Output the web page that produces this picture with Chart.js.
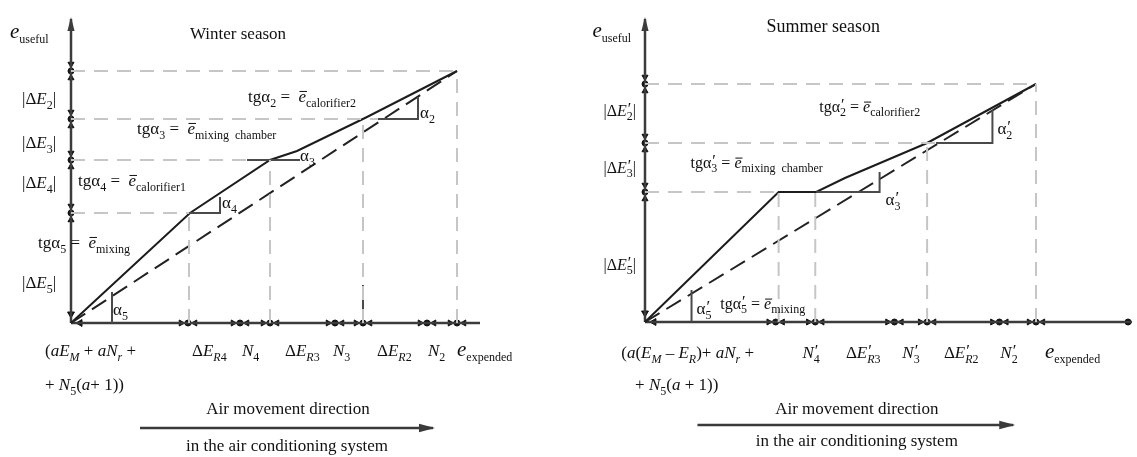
<!DOCTYPE html>
<html>
<head>
<meta charset="utf-8">
<script src="https://cdn.jsdelivr.net/npm/chart.js@4.4.1/dist/chart.umd.min.js"></script>
<style>
  html, body { margin: 0; padding: 0; background: #fff; }
  #wrap { position: relative; width: 1137px; height: 457px; overflow: hidden; }
  #winter { position: absolute; left: 0; top: 0; }
  #summer { position: absolute; left: 560px; top: 0; }
</style>
</head>
<body>
<div id="wrap">
  <canvas id="winter" width="560" height="457"></canvas>
  <canvas id="summer" width="577" height="457"></canvas>
</div>
<script>
// winter season: real (broken) useful energy line and the average straight line
var winterX = [0, 119, 199, 226, 296, 386];
var winterY = [0, 110, 163, 172, 206, 252];
var winterLevels = [110, 163, 204, 252];      // |dE5| .. |dE2| boundaries on e_useful
var winterSteps = [118, 199, 292, 386];       // N4, N3, N2, e_expended on the x axis
var winterStepTop = [110, 163, 204, 252];
var winterGuideEnd = [118, 176, 307, 386];
var winterTicks = [117, 169, 199, 264, 292, 356, 386];
var winterAngleX = [[118, 149, 149], [176, 229], [307, 347, 347], [41, 41]];
var winterAngleY = [[110, 110, 126], [163, 163], [204, 204, 226], [0, 31]];

// summer season
var summerX = [0, 135, 173, 202, 285, 395];
var summerY = [0, 130, 130, 144, 179, 238];
var summerLevels = [130, 179, 238];
var summerSteps = [135, 172, 285, 395];
var summerStepTop = [130, 130, 179, 238];
var summerGuideEnd = [135, 294, 395];
var summerTicks = [132, 172, 252, 285, 358, 395];
var summerAngleX = [[173, 237, 237], [294, 351, 351], [47, 47]];
var summerAngleY = [[130, 130, 150], [179, 179, 212], [0, 32]];

var FAM = '"Liberation Serif", "Times New Roman", serif';

function seg(xs, ys, style) {
  return Object.assign({
    data: xs.map(function (x, i) { return { x: x, y: ys[i] }; }),
    showLine: true, pointRadius: 0, clip: false, fill: false
  }, style);
}

var guide = { borderColor: '#c6c6c6', borderWidth: 2, borderDash: [14, 9] };
var axis = { borderColor: '#3c3c3c', borderWidth: 2.5 };
var mainLine = { borderColor: '#1c1c1c', borderWidth: 2 };
var avgLine = { borderColor: '#222', borderWidth: 2, borderDash: [17, 8] };
var angleLine = { borderColor: '#4a4a4a', borderWidth: 2 };

function markers(ticks, levels, extra) {
  var pts = [], st = [], rot = [], rad = [];
  function add(x, y, s, r, size) { pts.push({ x: x, y: y }); st.push(s); rot.push(r); rad.push(size); }
  ticks.forEach(function (t) {
    add(t, 0, 'circle', 0, 3);
    add(t - 7, 0, 'triangle', 90, 3.5);
    add(t + 7, 0, 'triangle', -90, 3.5);
  });
  levels.forEach(function (l) {
    add(0, l, 'circle', 0, 3);
    add(0, l + 7, 'triangle', 180, 3.5);
    add(0, l - 7, 'triangle', 0, 3.5);
  });
  add(0, 9, 'triangle', 180, 4);
  add(9, 0, 'triangle', -90, 4);
  extra.forEach(function (e) { add(e[0], e[1], e[2], e[3], e[4]); });
  return {
    data: pts, showLine: false, clip: false,
    pointStyle: st, pointRotation: rot, pointRadius: rad,
    pointBackgroundColor: '#111', pointBorderColor: '#111', pointBorderWidth: 1
  };
}

function buildSets(c) {
  var sets = [];
  c.levels.forEach(function (l, i) {
    sets.push(seg([0, c.guideEnd[i]], [l, l], guide));
  });
  c.steps.forEach(function (s, i) {
    sets.push(seg([s, s], [0, c.stepTop[i]], guide));
  });
  c.angleX.forEach(function (ax, i) { sets.push(seg(ax, c.angleY[i], angleLine)); });
  (c.solidStubs || []).forEach(function (s) { sets.push(seg(s[0], s[1], angleLine)); });
  sets.push(seg([0, c.xs[c.xs.length - 1]], [0, c.ys[c.ys.length - 1]], avgLine));
  sets.push(seg(c.xs, c.ys, mainLine));
  sets.push(seg([0, 0], [0, c.yTop], Object.assign({ arrowHead: 6 }, axis)));
  sets.push(seg([0, c.xEnd], [0, 0], axis));
  sets.push(seg(c.arrow[0], c.arrow[1], { borderColor: '#3a3a3a', borderWidth: 2.5, arrowHead: 7 }));
  sets.push(markers(c.ticks, c.levels, c.extra));
  return sets;
}

// rich text: runs of [text, mode]
function drawRuns(ctx, runs, x, y, size, align) {
  var sub = Math.round(size * 0.72);
  function font(m) {
    if (m === 'i' || m === 'o') return 'italic ' + size + 'px ' + FAM;
    if (m === 'E') return 'italic ' + Math.round(size * 1.25) + 'px ' + FAM;
    if (m === 's') return sub + 'px ' + FAM;
    if (m === 'si') return 'italic ' + sub + 'px ' + FAM;
    return size + 'px ' + FAM;
  }
  var total = 0;
  runs.forEach(function (r) {
    ctx.font = font(r[1]);
    if (r[1] !== 'p') total += ctx.measureText(r[0]).width;
  });
  if (align === 'center') x -= total / 2;
  ctx.fillStyle = '#111';
  ctx.strokeStyle = '#111';
  ctx.textBaseline = 'alphabetic';
  ctx.textAlign = 'left';
  runs.forEach(function (r) {
    var m = r[1];
    ctx.font = font(m);
    var w = ctx.measureText(r[0]).width;
    var dy = (m === 's' || m === 'si') ? size * 0.28 : 0;
    if (m === 'p') {
      ctx.fillText('\u2032', x + 1, y - size * 0.12);
      return;
    }
    ctx.fillText(r[0], x, y + dy);
    if (m === 'o') {
      ctx.lineWidth = 1;
      ctx.beginPath();
      ctx.moveTo(x + 1, y - size * 0.62);
      ctx.lineTo(x + w + 1, y - size * 0.62);
      ctx.stroke();
    }
    x += w;
  });
}

var textPlugin = {
  id: 'texts',
  afterDatasetsDraw: function (chart) {
    var ctx = chart.ctx, xs = chart.scales.x, ys = chart.scales.y;
    ctx.save();
    // arrow heads at the end of flagged lines (drawn outside the chart area too)
    chart.data.datasets.forEach(function (ds) {
      if (!ds.arrowHead) return;
      var n = ds.data.length;
      var a = ds.data[n - 2], b = ds.data[n - 1];
      var x1 = xs.getPixelForValue(a.x), y1 = ys.getPixelForValue(a.y);
      var x2 = xs.getPixelForValue(b.x), y2 = ys.getPixelForValue(b.y);
      var ang = Math.atan2(y2 - y1, x2 - x1), L = ds.arrowHead * 2, W = ds.arrowHead * 0.6;
      ctx.fillStyle = ds.borderColor;
      ctx.beginPath();
      ctx.moveTo(x2 + Math.cos(ang) * 2, y2 + Math.sin(ang) * 2);
      ctx.lineTo(x2 - Math.cos(ang) * L - Math.sin(ang) * W, y2 - Math.sin(ang) * L + Math.cos(ang) * W);
      ctx.lineTo(x2 - Math.cos(ang) * L + Math.sin(ang) * W, y2 - Math.sin(ang) * L - Math.cos(ang) * W);
      ctx.closePath();
      ctx.fill();
    });
    chart.options.plugins.texts.items.forEach(function (t) {
      drawRuns(ctx, t[2], xs.getPixelForValue(t[0]), ys.getPixelForValue(t[1]), t[3] || 17, t[4]);
    });
    ctx.restore();
  }
};

function dE(n, prime) {
  return prime
    ? [['|Δ', 'n'], ['E', 'i'], ['', 'p'], [n, 's'], ['|', 'n']]
    : [['|Δ', 'n'], ['E', 'i'], [n, 's'], ['|', 'n']];
}
function tg(n, name, prime) {
  var r = [['tgα', 'n']];
  if (prime) r.push(['', 'p']);
  r.push([n, 's'], [prime ? ' = ' : ' =  ', 'n'], ['e', 'o'], [name, 's']);
  return r;
}
function alpha(n, prime) {
  return prime ? [['α', 'n'], ['', 'p'], [n, 's']] : [['α', 'n'], [n, 's']];
}
function dER(n, prime) {
  return prime
    ? [['Δ', 'n'], ['E', 'i'], ['', 'p'], ['R', 'si'], [n, 's']]
    : [['Δ', 'n'], ['E', 'i'], ['R', 'si'], [n, 's']];
}
function bigN(n, prime) {
  return prime ? [['N', 'i'], ['', 'p'], [n, 's']] : [['N', 'i'], [n, 's']];
}

var winterTexts = [
  [-61, 285, [['e', 'E'], ['useful', 's']], 17],
  [167, 284, [['Winter season', 'n']], 17, 'center'],
  [-49, 219, dE('2')], [-49, 175, dE('3')], [-49, 135, dE('4')], [-49, 35, dE('5')],
  [177, 221, tg('2', 'calorifier2')],
  [66, 189, tg('3', 'mixing  chamber')],
  [7, 137, tg('4', 'calorifier1')],
  [-33, 75, tg('5', 'mixing')],
  [349, 205, alpha('2')], [229, 162, alpha('3')], [151, 115, alpha('4')], [42, 8, alpha('5')],
  [-26, -33, [['(', 'n'], ['aE', 'i'], ['M', 'si'], [' + ', 'n'], ['aN', 'i'], ['r', 'si'], [' +', 'n']]],
  [121, -33, dER('4')], [171, -33, bigN('4')],
  [214, -33, dER('3')], [262, -33, bigN('3')],
  [306, -33, dER('2')], [357, -33, bigN('2')],
  [386, -33, [['e', 'E'], ['expended', 's']]],
  [-26, -67, [['+ ', 'n'], ['N', 'i'], ['5', 's'], ['(', 'n'], ['a', 'i'], ['+ 1))', 'n']]],
  [217, -91, [['Air movement direction', 'n']], 17, 'center'],
  [216, -128, [['in the air conditioning system', 'n']], 17, 'center']
];

var summerTexts = [
  [-53, 285, [['e', 'E'], ['useful', 's']], 17],
  [180, 290, [['Summer season', 'n']], 18, 'center'],
  [-42, 206, dE('2', true), 16], [-42, 149, dE('3', true), 16], [-42, 52, dE('5', true), 16],
  [176, 210, tg('2', 'calorifier2', true), 16],
  [46, 154, tg('3', 'mixing  chamber', true), 16],
  [356, 188, alpha('2', true)], [243, 117, alpha('3', true)], [52, 8, alpha('5', true)],
  [76, 13, tg('5', 'mixing', true), 16],
  [-24, -36, [['(', 'n'], ['a', 'i'], ['(', 'n'], ['E', 'i'], ['M', 'si'], [' \u2013 ', 'n'], ['E', 'i'], ['R', 'si'], [')+ ', 'n'], ['aN', 'i'], ['r', 'si'], [' +', 'n']]],
  [159, -36, bigN('4', true)], [203, -36, dER('3', true)],
  [260, -36, bigN('3', true)], [302, -36, dER('2', true)],
  [359, -36, bigN('2', true)],
  [404, -36, [['e', 'E'], ['expended', 's']]],
  [-10, -68, [['+ ', 'n'], ['N', 'i'], ['5', 's'], ['(', 'n'], ['a', 'i'], [' + 1))', 'n']]],
  [214, -92, [['Air movement direction', 'n']], 17, 'center'],
  [214, -124, [['in the air conditioning system', 'n']], 17, 'center']
];

function makeChart(id, sets, texts, pad, xMax, yMax) {
  return new Chart(document.getElementById(id), {
    type: 'scatter',
    data: { datasets: sets },
    options: {
      responsive: false,
      animation: false,
      devicePixelRatio: 1,
      layout: { padding: pad },
      scales: {
        x: { type: 'linear', min: 0, max: xMax, display: false },
        y: { type: 'linear', min: 0, max: yMax, display: false }
      },
      plugins: { legend: { display: false }, tooltip: { enabled: false }, texts: { items: texts } },
      events: []
    },
    plugins: [textPlugin]
  });
}

makeChart('winter', buildSets({
  xs: winterX, ys: winterY, levels: winterLevels, steps: winterSteps, stepTop: winterStepTop,
  guideEnd: winterGuideEnd, ticks: winterTicks, angleX: winterAngleX, angleY: winterAngleY,
  solidStubs: [[[292, 292], [0, 38]]],
  yTop: 304, xEnd: 409,
  arrow: [[69, 362], [-105, -105]],
  extra: []
}), winterTexts, { left: 71, right: 78, top: 10, bottom: 134 }, 411, 313);

makeChart('summer', buildSets({
  xs: summerX, ys: summerY, levels: summerLevels, steps: summerSteps, stepTop: summerStepTop,
  guideEnd: summerGuideEnd, ticks: summerTicks, angleX: summerAngleX, angleY: summerAngleY,
  yTop: 303, xEnd: 492,
  arrow: [[53, 372], [-103, -103]],
  extra: [[488, 0, 'circle', 0, 3]]
}), summerTexts, { left: 85, right: 0, top: 10, bottom: 135 }, 492, 312);
</script>
</body>
</html>
